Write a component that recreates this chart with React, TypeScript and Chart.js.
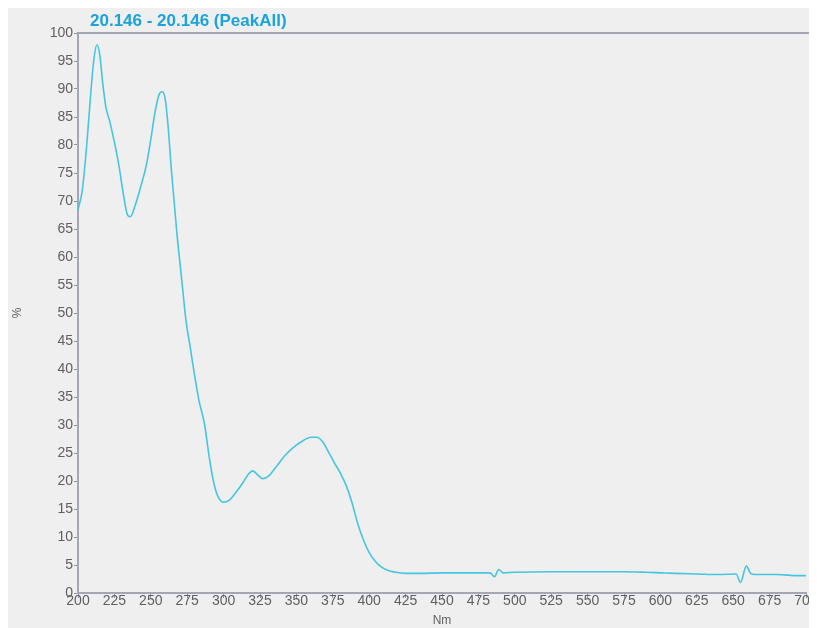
import React, { useEffect, useRef } from "react";
import { Chart, registerables } from "chart.js";

Chart.register(...registerables);

const titleText = "20.146 - 20.146 (PeakAll)";
const xTitle = "Nm";
const yTitle = "%";

const wavelengths = [
  200, 203, 206, 209, 211, 213, 215, 217, 219, 222, 225, 228, 231, 234, 236, 239, 243, 247, 250, 253,
  256, 258, 260, 262, 264, 266, 268, 270, 272, 274, 277, 280, 283, 287, 290, 293, 296, 300, 304, 308,
  313, 317, 320, 323, 327, 331, 336, 342, 348, 354, 360, 364, 368, 372, 376, 380, 384, 388, 392, 396,
  400, 404, 408, 413, 418, 425, 435, 450, 465, 475, 483, 486, 489, 492, 500, 525, 550, 575, 590, 600,
  610, 625, 640, 652, 655, 659, 662, 665, 680, 695, 700,
];

const absorbance = [
  68.4, 72, 80, 90, 95.5, 97.9, 96, 91, 87, 84, 80.5, 76.5, 71.5, 67.5, 67.2, 69, 72.5, 76.5, 81, 86,
  89.2, 89.5, 88, 83, 76, 70, 64, 59, 54, 49, 44, 39, 34.5, 30, 24.5, 20, 17.3, 16.2, 16.6, 17.8,
  19.6, 21.2, 21.8, 21.2, 20.4, 20.9, 22.5, 24.5, 26.0, 27.1, 27.8, 27.8, 27.0, 25.2, 23.3, 21.5, 19.3, 16.3, 12.5, 9.5,
  7.2, 5.7, 4.7, 4.0, 3.7, 3.5, 3.5, 3.6, 3.6, 3.6, 3.6, 2.9, 4.2, 3.6, 3.7, 3.8, 3.8, 3.8, 3.7, 3.6,
  3.5, 3.4, 3.3, 3.4, 1.9, 4.8, 3.5, 3.3, 3.3, 3.1, 3.1,
];

const xMin = 200;
const xMax = 700;
const xStep = 25;
const yMin = 0;
const yMax = 100;
const yStep = 5;

const FONT = "'Liberation Sans', Arial, sans-serif";

export default function App() {
  const ref = useRef<HTMLCanvasElement | null>(null);

  useEffect(() => {
    if (!ref.current) return;
    const decor = {
      id: "decor",
      beforeDraw(chart: any) {
        const { ctx, width, height } = chart;
        ctx.save();
        ctx.fillStyle = "#efefef";
        ctx.fillRect(0, 0, width, height);
        ctx.restore();
      },
      afterDraw(chart: any) {
        const { ctx, chartArea, width } = chart;
        ctx.save();
        ctx.strokeStyle = "#a3a7b4";
        ctx.lineWidth = 2;
        ctx.beginPath();
        ctx.moveTo(chartArea.left, chartArea.top);
        ctx.lineTo(width, chartArea.top);
        ctx.stroke();
        ctx.fillStyle = "#1ba3db";
        ctx.font = "bold 17px " + FONT;
        ctx.textBaseline = "middle";
        ctx.textAlign = "left";
        ctx.fillText(titleText, 82, 13);
        ctx.restore();
      },
    };

    const chart = new Chart(ref.current, {
      type: "line",
      data: {
        datasets: [
          {
            data: wavelengths.map((x, i) => ({ x, y: absorbance[i] })),
            borderColor: "#45c6e0",
            borderWidth: 1.6,
            pointRadius: 0,
            fill: false,
            cubicInterpolationMode: "monotone",
          },
        ],
      },
      options: {
        animation: false,
        responsive: false,
        layout: { padding: { left: 0, top: 25, right: 11, bottom: 0 } },
        plugins: {
          legend: { display: false },
          tooltip: { enabled: false },
          title: { display: false },
        },
        scales: {
          x: {
            type: "linear",
            min: xMin,
            max: xMax,
            ticks: {
              stepSize: xStep,
              color: "#606060",
              font: { family: FONT, size: 14 },
              padding: -5,
              maxRotation: 0,
              autoSkip: false,
            },
            grid: { drawOnChartArea: false, tickLength: 5, color: "#8f94a3" },
            border: { color: "#a3a7b4", width: 2 },
            title: {
              display: true,
              text: xTitle,
              color: "#606060",
              font: { family: FONT, size: 12 },
              padding: 0,
            },
            afterFit(scale: any) {
              scale.height = 35;
            },
          },
          y: {
            min: yMin,
            max: yMax,
            ticks: {
              stepSize: yStep,
              color: "#606060",
              font: { family: FONT, size: 14 },
              padding: 1,
            },
            grid: { drawOnChartArea: false, tickLength: 4, color: "#8f94a3" },
            border: { color: "#a3a7b4", width: 2 },
            title: {
              display: true,
              text: yTitle,
              color: "#606060",
              font: { family: FONT, size: 12 },
              padding: 2,
            },
            afterFit(scale: any) {
              scale.width = 70;
            },
          },
        },
      },
      plugins: [decor],
    } as any);

    return () => chart.destroy();
  }, []);

  return (
    <div style={{ width: 809, height: 620 }}>
      <canvas ref={ref} width={809} height={620} style={{ display: "block" }} />
    </div>
  );
}
